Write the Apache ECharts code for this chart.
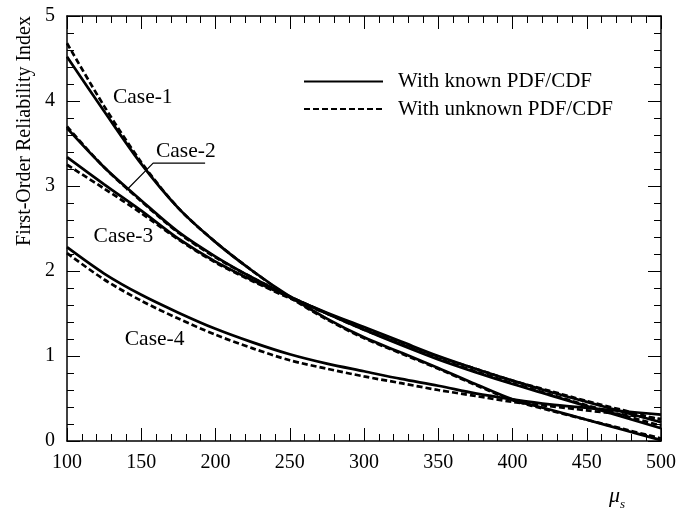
<!DOCTYPE html>
<html>
<head>
<meta charset="utf-8">
<style>
  html, body { margin: 0; padding: 0; background: #fff; }
  #chart { width: 680px; height: 510px; }
</style>
<script src="https://cdn.jsdelivr.net/npm/echarts@6/dist/echarts.min.js"></script>
</head>
<body>
<div id="chart"></div>
<script>
// mean strength mu_s
const xs = [100, 125, 150, 175, 200, 225, 250, 275, 300, 325, 350, 375, 400, 425, 450, 475, 500];

// known PDF/CDF (solid)
const case1Known = [4.52, 3.88, 3.26, 2.74, 2.34, 2.00, 1.70, 1.44, 1.22, 1.04, 0.86, 0.67, 0.49, 0.37, 0.25, 0.13, 0.01];
const case2Known = [3.68, 3.22, 2.83, 2.46, 2.17, 1.92, 1.70, 1.50, 1.31, 1.13, 0.96, 0.81, 0.67, 0.54, 0.41, 0.28, 0.15];
const case3Known = [3.34, 3.02, 2.71, 2.38, 2.11, 1.89, 1.69, 1.51, 1.34, 1.17, 1.00, 0.85, 0.71, 0.58, 0.46, 0.34, 0.22];
const case4Known = [2.28, 1.97, 1.72, 1.51, 1.32, 1.16, 1.02, 0.91, 0.82, 0.73, 0.65, 0.56, 0.49, 0.43, 0.39, 0.35, 0.31];

// unknown PDF/CDF (dashed)
const case1Unknown = [4.68, 3.94, 3.28, 2.74, 2.34, 2.00, 1.69, 1.43, 1.21, 1.03, 0.85, 0.66, 0.48, 0.36, 0.25, 0.14, 0.03];
const case2Unknown = [3.70, 3.22, 2.82, 2.45, 2.16, 1.92, 1.70, 1.50, 1.31, 1.14, 0.97, 0.82, 0.68, 0.55, 0.42, 0.30, 0.18];
const case3Unknown = [3.25, 2.97, 2.68, 2.37, 2.10, 1.88, 1.68, 1.50, 1.33, 1.16, 0.99, 0.85, 0.71, 0.59, 0.47, 0.36, 0.25];
const case4Unknown = [2.21, 1.90, 1.65, 1.44, 1.25, 1.09, 0.95, 0.85, 0.76, 0.68, 0.60, 0.53, 0.46, 0.41, 0.36, 0.31, 0.26];

// curve labels and the Case-2 leader line
const caseNames = ['Case-1', 'Case-2', 'Case-3', 'Case-4'];
const casePos = [[151, 4.04], [180, 3.41], [138, 2.41], [159, 1.19]];
const case2Leader = [[140, 2.95], [158, 3.27], [193, 3.27]];

const KNOWN = 'With known PDF/CDF';
const UNKNOWN = 'With unknown PDF/CDF';
const FONT = '"Liberation Serif", "Times New Roman", serif';

const zip = (vals) => xs.map((x, i) => [x, vals[i]]);

const solid = (vals) => ({
  name: KNOWN, type: 'line', data: zip(vals), smooth: 0.3,
  symbol: 'none', lineStyle: { color: '#000', width: 2.7 }, z: 3
});
const dashed = (vals) => ({
  name: UNKNOWN, type: 'line', data: zip(vals), smooth: 0.3,
  symbol: 'none', lineStyle: { color: '#000', width: 2.7, type: [6, 3] }, z: 2
});

const frameAxis = {
  axisLine: { show: true, onZero: false, lineStyle: { color: '#000', width: 1.5 } },
  axisTick: { show: true, inside: true, length: 13, lineStyle: { color: '#000', width: 1 } },
  minorTick: { show: true, splitNumber: 5, length: 7, lineStyle: { color: '#000', width: 1 } },
  splitLine: { show: false }
};
const tickLabel = { color: '#000', fontSize: 20, fontFamily: FONT, margin: 12 };

const chart = echarts.init(document.getElementById('chart'));
chart.setOption({
  animation: false,
  backgroundColor: '#fff',
  grid: { left: 67, right: 19, top: 16, bottom: 69 },
  legend: {
    data: [KNOWN, UNKNOWN],
    orient: 'vertical',
    left: 303, top: 71, padding: 0,
    itemWidth: 79, itemHeight: 22, itemGap: 6.5,
    itemStyle: { opacity: 0 },
    textStyle: { fontSize: 21, fontFamily: FONT, color: '#000', padding: [0, 0, 0, 10] }
  },
  xAxis: [
    Object.assign({ type: 'value', min: 100, max: 500, interval: 50, position: 'bottom',
      axisLabel: tickLabel }, frameAxis),
    Object.assign({ type: 'value', min: 100, max: 500, interval: 50, position: 'top',
      axisLabel: { show: false } }, frameAxis)
  ],
  yAxis: [
    Object.assign({ type: 'value', min: 0, max: 5, interval: 1, position: 'left',
      axisLabel: tickLabel }, frameAxis),
    Object.assign({ type: 'value', min: 0, max: 5, interval: 1, position: 'right',
      axisLabel: { show: false } }, frameAxis)
  ],
  series: [
    solid(case1Known), solid(case2Known), solid(case3Known), solid(case4Known),
    dashed(case1Unknown), dashed(case2Unknown), dashed(case3Unknown), dashed(case4Unknown),
    {
      name: 'leader', type: 'line', data: case2Leader, symbol: 'none', silent: true,
      lineStyle: { color: '#000', width: 1.2 }
    }
  ]
});

// texts: axis names and case labels (case labels placed through the axes)
const texts = [
  {
    type: 'text', x: 25, y: 131, rotation: Math.PI / 2,
    style: { text: 'First-Order Reliability Index', fontSize: 20, fontFamily: FONT,
      fill: '#000', align: 'center', verticalAlign: 'middle' }
  },
  {
    type: 'text', x: 609, y: 481,
    style: {
      text: '{a|μ}{b|s}', fill: '#000',
      rich: {
        a: { fontSize: 22, fontStyle: 'italic', fontFamily: FONT, fill: '#000' },
        b: { fontSize: 13, fontStyle: 'italic', fontFamily: FONT, fill: '#000', padding: [17, 0, 0, 0] }
      }
    }
  }
];
caseNames.forEach((n, i) => {
  const p = chart.convertToPixel({ xAxisIndex: 0, yAxisIndex: 0 }, casePos[i]);
  texts.push({
    type: 'text', x: p[0], y: p[1],
    style: { text: n, fontSize: 21.5, fontFamily: FONT, fill: '#000',
      align: 'center', verticalAlign: 'middle' }
  });
});
chart.setOption({ graphic: texts });
</script>
</body>
</html>
